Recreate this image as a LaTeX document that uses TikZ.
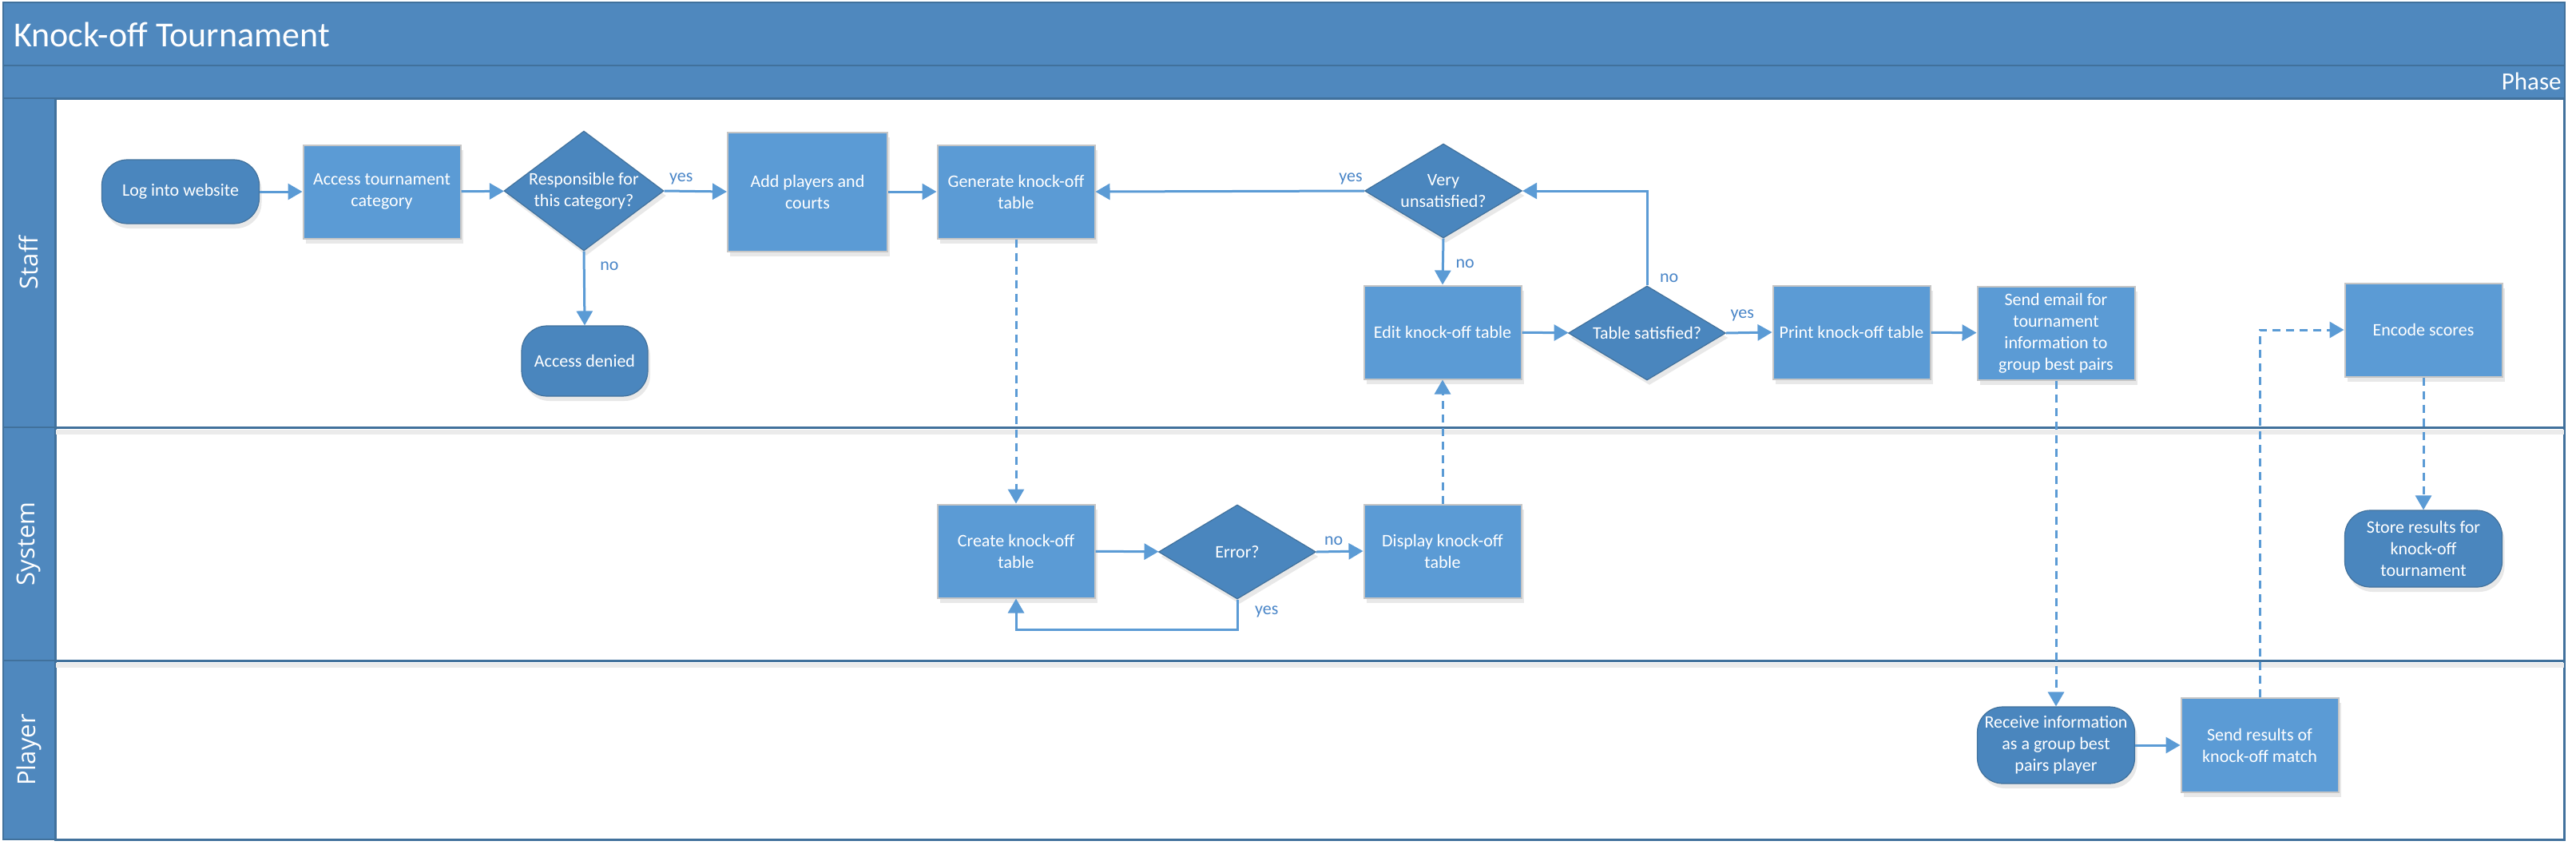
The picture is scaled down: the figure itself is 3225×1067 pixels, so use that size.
\documentclass[tikz,border=0pt]{standalone}
\usepackage{fontspec}
\setmainfont{Carlito}
\newfontfamily\lanefont{Open Sans}
\usetikzlibrary{shapes.geometric,arrows.meta,shadows}
\definecolor{boxblue}{HTML}{5B9BD5}
\definecolor{darkblue}{HTML}{4A86BE}
\definecolor{bandblue}{HTML}{4F88BE}
\definecolor{edgeblue}{HTML}{41719C}
\definecolor{labelblue}{HTML}{4A86C8}

\begin{document}
\begin{tikzpicture}[x=0.5pt, y=-0.5pt,
    boxtext/.style={text=white, font=\fontsize{11pt}{13.5pt}\selectfont, align=center},
    softshadow/.style={drop shadow={opacity=0.18, shadow xshift=1.5pt, shadow yshift=-3pt}},
    process/.style={boxtext, rectangle, draw=gray!45, line width=1pt, fill=boxblue,
        minimum width=98.5pt, minimum height=58.5pt, inner sep=2pt, softshadow},
    decision/.style={boxtext, diamond, aspect=1.67, draw=edgeblue, line width=0.6pt, fill=darkblue,
        minimum width=98.5pt, minimum height=59pt, inner sep=0pt, softshadow},
    terminal/.style={boxtext, rectangle, rounded corners=16pt, draw=edgeblue, line width=0.6pt,
        fill=darkblue, minimum width=98.5pt, minimum height=48pt, inner sep=0pt, softshadow},
    flow/.style={draw=boxblue, line width=1.5pt, -{Triangle[length=9pt,width=10pt]}},
    msg/.style={flow, dash pattern=on 5pt off 3.5pt},
    answer/.style={text=labelblue, font=\fontsize{11pt}{13.5pt}\selectfont},
    band/.style={fill=bandblue, draw=edgeblue, line width=1pt},
    lanelabel/.style={text=white, rotate=90, font=\lanefont\fontsize{15.5pt}{18pt}\selectfont},
    lanesep/.style={draw=edgeblue, line width=1.5pt}]

    \useasboundingbox (0,0) rectangle (3225,1067);

    % title and phase bands
    \draw[band] (4,3) rectangle (3211,82);
    \draw[band] (4,82) rectangle (3211,123);
    \node[anchor=west, inner sep=0pt, text=white, font=\fontsize{22pt}{26pt}\selectfont] (title) at (17,43) {Knock-off Tournament};
    \node[anchor=base east, inner sep=0pt, text=white, font=\fontsize{15.5pt}{18pt}\selectfont] (phase) at (3207,112) {Phase};

    % lanes
    \draw[fill=white, draw=edgeblue, line width=1.5pt] (69,123) rectangle (3210,1051);
    \draw[draw=black!8, line width=3pt] (69,541) -- (3210,541);
    \draw[draw=black!8, line width=3pt] (69,833) -- (3210,833);
    \draw[lanesep] (69,535) -- (3210,535);
    \draw[lanesep] (69,827) -- (3210,827);
    \draw[band] (4,123) rectangle (69,535);
    \draw[band] (4,535) rectangle (69,827);
    \draw[band] (4,827) rectangle (69,1051);
    \node[lanelabel] (staff) at (36,329) {Staff};
    \node[lanelabel] (system) at (36,681) {System};
    \node[lanelabel] (player) at (36,939) {Player};

    % Staff lane
    \node[terminal, minimum height=40pt] (login) at (226,240) {Log into website};
    \node[process] (access) at (478,240) {Access tournament\\category};
    \node[decision, aspect=1.33, minimum width=100pt, minimum height=75pt] (resp) at (731,239) {Responsible for\\this category?};
    \node[terminal, minimum width=79pt, minimum height=44pt] (denied) at (732,452) {Access denied};
    \node[process, minimum width=100pt, minimum height=74.5pt] (addp) at (1011,240) {Add players and\\courts};
    \node[process] (gen) at (1272,240) {Generate knock-off\\table};
    \node[decision] (vunsat) at (1807,239) {Very\\unsatisfied?};
    \node[process] (edit) at (1806,416) {Edit knock-off table};
    \node[decision] (tsat) at (2062,417) {Table satisfied?};
    \node[process] (print) at (2318,416) {Print knock-off table};
    \node[process] (email) at (2574,417) {Send email for\\tournament\\information to\\group best pairs};
    \node[process] (encode) at (3034,413) {Encode scores};

    % System lane
    \node[process] (create) at (1272,690) {Create knock-off\\table};
    \node[decision] (error) at (1549,691) {Error?};
    \node[process] (display) at (1806,690) {Display knock-off\\table};
    \node[terminal] (store) at (3034,687) {Store results for\\knock-off\\tournament};

    % Player lane
    \node[terminal] (recv) at (2574,933) {Receive information\\as a group best\\pairs player};
    \node[process, minimum height=59pt] (sendres) at (2829,933) {Send results of\\knock-off match};

    % connectors
    \draw[flow] (login) -- (access);
    \draw[flow] (access) -- (resp);
    \draw[flow] (resp.east) -- node[answer, pos=0.27, above] {yes} (addp.west);
    \draw[flow] (resp.south) -- node[answer, pos=0.2, right=6pt] {no} (denied.north);
    \draw[flow] (addp) -- (gen);
    \draw[flow] (vunsat.west) -- node[answer, pos=0.05, above] {yes} (gen.east);
    \draw[flow] (vunsat.south) -- node[answer, pos=0.55, right=4pt] {no} (edit.north);
    \draw[flow] (edit) -- (tsat);
    \draw[flow] (tsat.north) |- node[answer, pos=0.04, right=4pt] {no} (vunsat.east);
    \draw[flow] (tsat.east) -- node[answer, pos=0.35, above=3pt] {yes} (print.west);
    \draw[flow] (print) -- (email);
    \draw[msg] (gen.south) -- (create.north);
    \draw[flow] (create) -- (error);
    \draw[flow] (error.east) -- node[answer, pos=0.37, above] {no} (display.west);
    \draw[flow] (error.south) -- node[answer, pos=0.4, right=7pt] {yes} ++(0,38) -| (create.south);
    \draw[msg] (display.north) -- (edit.south);
    \draw[msg] (email.south) -- (recv.north);
    \draw[flow] (recv) -- (sendres);
    \draw[msg] (sendres.north) |- (encode.west);
    \draw[msg] (encode.south) -- (store.north);
\end{tikzpicture}
\end{document}
